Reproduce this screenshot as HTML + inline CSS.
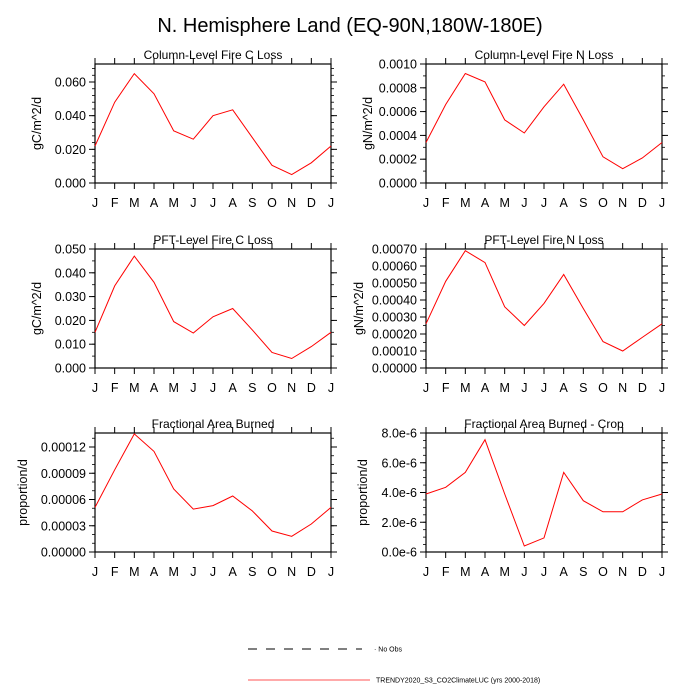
<!DOCTYPE html>
<html><head><meta charset="utf-8"><style>
body{margin:0;background:#fff;}
svg{display:block;font-family:"Liberation Sans",sans-serif;}
</style></head><body>
<svg id="chart" width="700" height="700" xmlns="http://www.w3.org/2000/svg">
<text x="350" y="32" font-size="20" text-anchor="middle">N. Hemisphere Land (EQ-90N,180W-180E)</text>
<g>
<line x1="248" y1="649" x2="362" y2="649" stroke="#000" stroke-width="1" stroke-dasharray="9,9"/>
<text x="374" y="651.5" font-size="7">· No Obs</text>
<line x1="248" y1="680" x2="370" y2="680" stroke="#f55" stroke-width="1"/>
<text x="376" y="682.5" font-size="7">TRENDY2020_S3_CO2ClimateLUC (yrs 2000-2018)</text>
</g>
</svg>
<script>
const months=["J","F","M","A","M","J","J","A","S","O","N","D","J"];
const titles=["Column-Level Fire C Loss","Column-Level Fire N Loss","PFT-Level Fire C Loss","PFT-Level Fire N Loss","Fractional Area Burned","Fractional Area Burned - Crop"];
const units=["gC/m^2/d","gN/m^2/d","gC/m^2/d","gN/m^2/d","proportion/d","proportion/d"];
const colCLoss=[0.022,0.048,0.065,0.053,0.031,0.026,0.040,0.0435,0.027,0.0105,0.005,0.012,0.022];
const colNLoss=[0.00034,0.00066,0.00092,0.00085,0.00053,0.00042,0.00064,0.00083,0.00053,0.00022,0.00012,0.00021,0.00034];
const pftCLoss=[0.015,0.0345,0.047,0.036,0.0195,0.0147,0.0215,0.025,0.016,0.0065,0.004,0.009,0.015];
const pftNLoss=[0.00026,0.00051,0.00069,0.00062,0.00036,0.00025,0.00038,0.00055,0.00035,0.000155,0.0001,0.00018,0.00026];
const areaBurned=[0.000051,0.000094,0.000135,0.000115,0.000072,0.000049,0.000053,0.000064,0.000047,0.000024,0.000018,0.000032,0.000051];
const areaBurnedCrop=[3.9e-6,4.35e-6,5.35e-6,7.55e-6,3.9e-6,0.4e-6,0.95e-6,5.35e-6,3.45e-6,2.7e-6,2.7e-6,3.5e-6,3.9e-6];
const ticks1=["0.000","0.020","0.040","0.060"];
const ticks2=["0.0000","0.0002","0.0004","0.0006","0.0008","0.0010"];
const ticks3=["0.000","0.010","0.020","0.030","0.040","0.050"];
const ticks4=["0.00000","0.00010","0.00020","0.00030","0.00040","0.00050","0.00060","0.00070"];
const ticks5=["0.00000","0.00003","0.00006","0.00009","0.00012"];
const ticks6=["0.0e-6","2.0e-6","4.0e-6","6.0e-6","8.0e-6"];
const series=[colCLoss,colNLoss,pftCLoss,pftNLoss,areaBurned,areaBurnedCrop];
const tickSets=[ticks1,ticks2,ticks3,ticks4,ticks5,ticks6];
const yMax=[0.0707,0.0010,0.050,0.00070,0.000136,8e-6];
const minorPer=[5,2,2,2,3,4];

const svg=document.getElementById('chart');
const NS="http://www.w3.org/2000/svg";
function mk(tag,attrs,parent){const e=document.createElementNS(NS,tag);for(const k in attrs)e.setAttribute(k,attrs[k]);parent.appendChild(e);return e;}
const lefts=[95,426], tops=[64,249,433], W=236, H=119;
const yTitleX=[37,368,37,359,23,363];
for(let p=0;p<6;p++){
  const x0=lefts[p%2], y0=tops[Math.floor(p/2)];
  const g=mk('g',{},svg);
  
  
  const xs=i=>x0+i*W/12;
  const ys=v=>y0+H-v/yMax[p]*H;
  const t=mk('text',{x:x0+W/2,y:y0-5,'font-size':12,'text-anchor':'middle'},g);
  t.textContent=titles[p];
  
  
  const tk=tickSets[p];
  const vals=tk.map(s=>parseFloat(s));
  const step=vals[1]-vals[0];
  const mstep=step/minorPer[p];
  const nMinor=Math.min(200,Math.floor(yMax[p]/mstep+1e-6));
  for(let k=0;k<=nMinor;k++){
    const y=ys(k*mstep);
    mk('line',{x1:x0-3,x2:x0,y1:y,y2:y,stroke:'#000','stroke-width':0.8},g);
    mk('line',{x1:x0+W,x2:x0+W+3,y1:y,y2:y,stroke:'#000','stroke-width':0.8},g);
  }
  for(let i=0;i<tk.length;i++){
    const y=ys(vals[i]);
    mk('line',{x1:x0-6,x2:x0,y1:y,y2:y,stroke:'#000','stroke-width':1},g);
    mk('line',{x1:x0+W,x2:x0+W+6,y1:y,y2:y,stroke:'#000','stroke-width':1},g);
    const l=mk('text',{x:x0-9,y:y+4.5,'font-size':12.5,'text-anchor':'end'},g);
    l.textContent=tk[i];
    
    
  }
  for(let i=0;i<13;i++){
    const x=xs(i);
    mk('line',{x1:x,x2:x,y1:y0+H,y2:y0+H+6,stroke:'#000','stroke-width':1},g);
    mk('line',{x1:x,x2:x,y1:y0-6,y2:y0,stroke:'#000','stroke-width':1},g);
    const l=mk('text',{x:x,y:y0+H+24,'font-size':12.5,'text-anchor':'middle'},g);
    l.textContent=months[i];
    
    
  }
  const ya=mk('text',{x:0,y:0,'font-size':12.5,'text-anchor':'middle',transform:`translate(${yTitleX[p]+4},${y0+H/2}) rotate(-90)`},g);
  ya.textContent=units[p];
  
  
  const fr=mk('rect',{x:x0,y:y0,width:W,height:H,fill:'none',stroke:'#000','stroke-width':1.2},g);
  
  
  const pts=series[p].map((v,i)=>xs(i).toFixed(1)+','+ys(v).toFixed(1)).join(' ');
  const pl=mk('polyline',{points:pts,fill:'none',stroke:'#f00','stroke-width':1},g);
  
  
}
</script>
</body></html>
